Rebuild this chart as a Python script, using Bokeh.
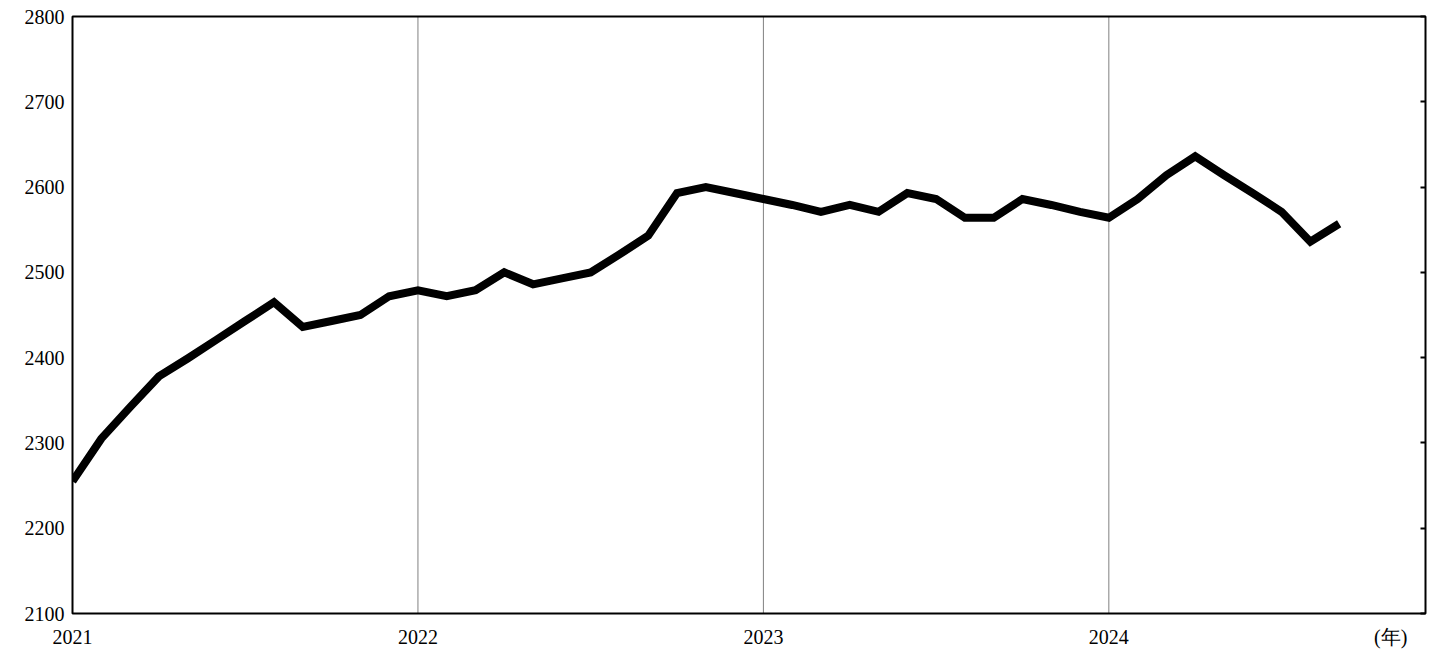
from bokeh.plotting import figure
from bokeh.models import Range1d, FixedTicker, Span, LinearAxis
from bokeh.embed import file_html
from bokeh.resources import INLINE

values = [2255, 2305, 2342, 2378, 2399, 2421, 2443, 2465, 2436, 2443, 2450, 2472,
          2479, 2472, 2479, 2500, 2486, 2493, 2500, 2521, 2543, 2593, 2600, 2593,
          2586, 2579, 2571, 2579, 2571, 2593, 2586, 2564, 2564, 2586, 2579, 2571,
          2564, 2586, 2614, 2636, 2614, 2593, 2571, 2536, 2557]
months = [2021 + i / 12 for i in range(len(values))]
years = [2021, 2022, 2023, 2024]
unit_pos = 2024.816
y_ticks = [2100, 2200, 2300, 2400, 2500, 2600, 2700, 2800]

FONT = "Liberation Serif"

p = figure(width=1435, height=655, output_backend="svg", toolbar_location=None,
           x_range=Range1d(2021, 2021 + 47 / 12), y_range=Range1d(2100, 2800),
           min_border_left=72, min_border_right=10, min_border_top=16, min_border_bottom=42)
p.outline_line_color = "black"
p.outline_line_width = 2
p.grid.grid_line_color = None
p.background_fill_color = "white"

for yr in years[1:]:
    p.add_layout(Span(location=yr, dimension="height", line_color="black",
                      line_width=1, line_dash="1 1"))

p.line(months, values, line_color="black", line_width=8, line_join="miter")

p.xaxis.ticker = FixedTicker(ticks=years + [unit_pos])
p.xaxis.major_label_overrides = {unit_pos: "(年)"}
p.yaxis.ticker = FixedTicker(ticks=y_ticks)
for ax in (p.xaxis[0], p.yaxis[0]):
    ax.axis_line_color = None
    ax.major_tick_line_color = None
    ax.minor_tick_line_color = None
    ax.major_label_text_font = FONT
    ax.major_label_text_font_size = "15pt"
    ax.major_label_text_color = "black"
    ax.major_label_standoff = 2
p.xaxis.major_label_standoff = 6

r = LinearAxis(ticker=FixedTicker(ticks=y_ticks),
               major_label_overrides={t: "" for t in y_ticks},
               axis_line_color=None, minor_tick_line_color=None,
               major_tick_in=5, major_tick_out=0, major_tick_line_width=2)
p.add_layout(r, "right")

open("out.html", "w").write(file_html(p, INLINE))
